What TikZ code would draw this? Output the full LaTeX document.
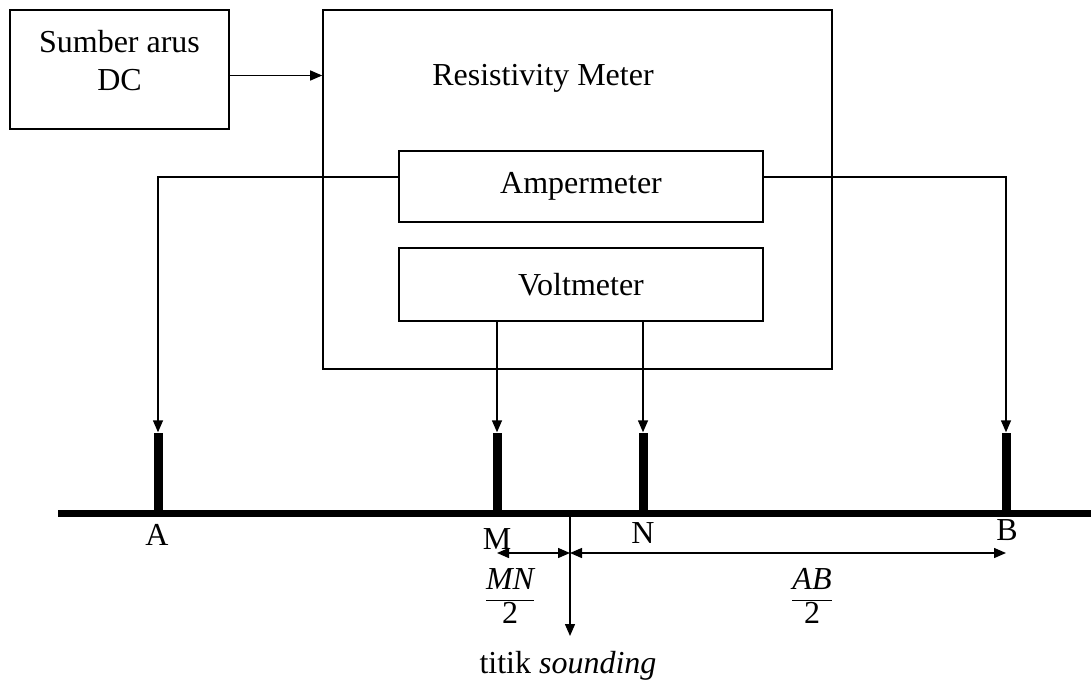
\documentclass[tikz,border=0pt]{standalone}
\usepackage{fontspec}
\setmainfont{Liberation Serif}
\usetikzlibrary{arrows.meta,math}

\begin{document}
\begin{tikzpicture}[x=1pt, y=-1pt, line width=1.4pt,
  font=\fontsize{32}{38}\selectfont,
  box/.style={draw, line width=1.6pt, inner sep=0pt},
  rod/.style={fill=black, minimum width=9pt, minimum height=80pt, inner sep=0pt},
  wire/.style={-{Triangle[length=12pt,width=10pt]}},
  dim/.style={{Triangle[length=12pt,width=10pt]}-{Triangle[length=12pt,width=10pt]}}]
  \tikzmath{\g = 513;}
  \useasboundingbox (0,0) rectangle (1091,685);

  \node[box, minimum width=219pt, minimum height=119pt] (sumber) at (119.5,69.5) {};
  \node[align=center] (sumbertext) at (119.5,61) {Sumber arus\\DC};
  \node[box, minimum width=509pt, minimum height=359pt] (meter) at (577.5,189.5) {};
  \node (metertext) at (543,78) {Resistivity Meter};
  \node[box, minimum width=364pt, minimum height=71pt] (amper) at (581,186.5) {Ampermeter};
  \node[box, minimum width=364pt, minimum height=73pt] (volt) at (581,284.5) {Voltmeter};

  % electrodes in the ground
  \foreach \name/\x in {A/158, M/497, N/643, B/1006}
    \node[rod] (rod\name) at (\x, \g-40) {};
  \draw[line width=7pt] (58,\g) -- (1091,\g);
  \foreach \name/\x/\y in {A/157/535, M/497/539, N/643/533, B/1007/530}
    \node (lab\name) at (\x,\y) {\name};

  \draw[wire] ([yshift=-6pt]sumber.east) -- ([yshift=-6pt]sumber.east -| meter.west);
  \draw[wire] ([yshift=9.5pt]amper.west) -| (rodA.north);
  \draw[wire] ([yshift=9.5pt]amper.east) -| (rodB.north);
  \draw[wire] (rodM.north |- volt.south) -- (rodM.north);
  \draw[wire] (rodN.north |- volt.south) -- (rodN.north);

  % sounding point
  \coordinate (sound) at (570,\g);
  \coordinate (soundtip) at (570,636);
  \draw[wire] (sound) -- (soundtip);
  \node (titik) at (568,666) {titik \textit{sounding}};
  \draw[dim] (rodM.center |- 0,553) -- (sound |- 0,553);
  \draw[dim] (sound |- 0,553) -- (rodB.center |- 0,553);
  \node (mn) at (510,596) {$\displaystyle\frac{\textit{MN}}{\mbox{2}}$};
  \node (ab) at (812,596) {$\displaystyle\frac{\textit{AB}}{\mbox{2}}$};
\end{tikzpicture}
\end{document}
